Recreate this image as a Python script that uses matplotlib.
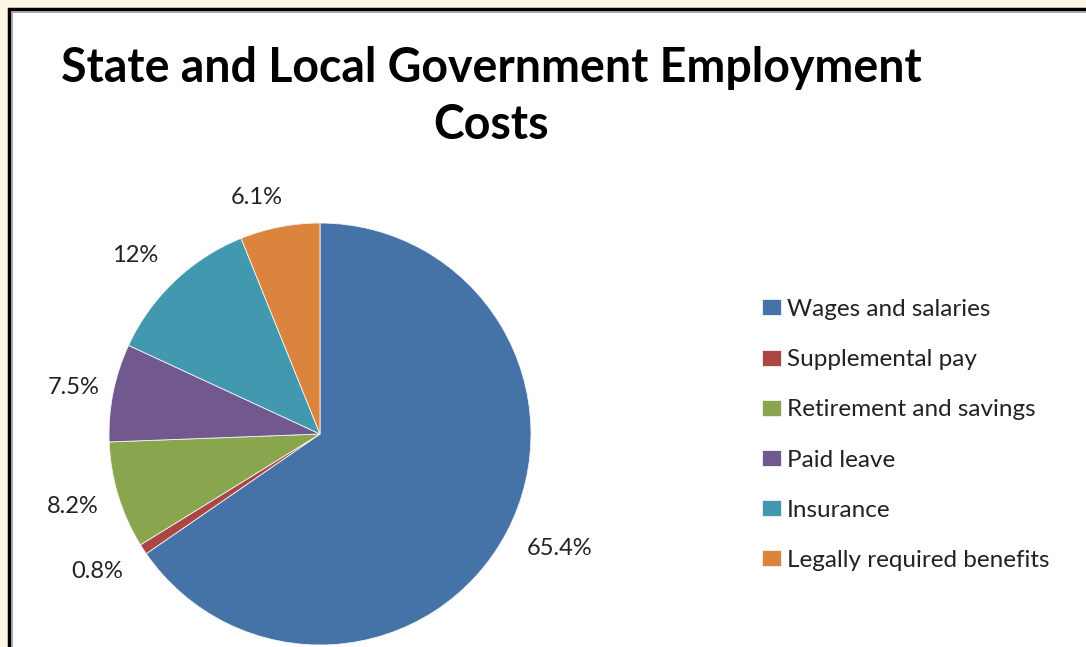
import numpy as np
import matplotlib
matplotlib.use("Agg")
import matplotlib.pyplot as plt
from matplotlib.patches import Rectangle

categories = ["Wages and salaries", "Supplemental pay", "Retirement and savings",
              "Paid leave", "Insurance", "Legally required benefits"]
shares = [65.4, 0.8, 8.2, 7.5, 12, 6.1]
pct_labels = ["65.4%", "0.8%", "8.2%", "7.5%", "12%", "6.1%"]
colors = ["#4572A7", "#AA4643", "#89A54E", "#71588F", "#4198AF", "#DB843D"]

# label placement (outside end, Excel style): radial factor and angle nudge in degrees
label_dist = [1.26, 1.24, 1.22, 1.19, 1.22, 1.16]
label_nudge = [2.1, -1.4, -0.5, 0.7, 2.4, 4.0]

plt.rcParams['font.family'] = ['Lato', 'DejaVu Sans']

W, H = 1086, 647
fig = plt.figure(figsize=(W / 100, H / 100), dpi=100, facecolor="#FDF6E2")

# white chart area with black frame (runs past the right and bottom edges)
fig.patches.append(Rectangle((9 / W, -0.1), 1.2, 1 - 9 / H + 0.1, transform=fig.transFigure,
                             facecolor="white", edgecolor="black", linewidth=2.5, zorder=-2))
fig.patches.append(Rectangle((12 / W, -0.1), 1.2, 1 - 12 / H + 0.1, transform=fig.transFigure,
                             facecolor="none", edgecolor="#999999", linewidth=1.2, zorder=-1))

fig.text(491 / W, 1 - 68 / H, "State and Local Government Employment",
         ha="center", va="center", fontsize=33.5, fontweight="bold", color="black")
fig.text(491 / W, 1 - 125 / H, "Costs",
         ha="center", va="center", fontsize=33.5, fontweight="bold", color="black")

cx, cy, r = 320, 434, 211
ax = fig.add_axes([(cx - r) / W, (H - cy - r) / H, 2 * r / W, 2 * r / H])
wedges, _ = ax.pie(shares, colors=colors, startangle=90, counterclock=False,
                   wedgeprops=dict(edgecolor="#f4f4f4", linewidth=0.6))
for w, lab, d, nd in zip(wedges, pct_labels, label_dist, label_nudge):
    ang = np.deg2rad((w.theta1 + w.theta2) / 2 + nd)
    ax.text(d * np.cos(ang), d * np.sin(ang), lab, ha="center", va="center",
            fontsize=17, color="#222222", clip_on=False)
ax.set_xlim(-1, 1)
ax.set_ylim(-1, 1)
ax.set_aspect("equal")

fig.legend(wedges, categories, loc="upper left", bbox_to_anchor=(762 / W, 1 - 299 / H),
           frameon=False, fontsize=17.5, labelspacing=1.2, handlelength=0.78, handleheight=0.63,
           handletextpad=0.25, borderpad=0, borderaxespad=0, labelcolor="#222222")

fig.savefig("out.png", dpi=100, facecolor=fig.get_facecolor())
